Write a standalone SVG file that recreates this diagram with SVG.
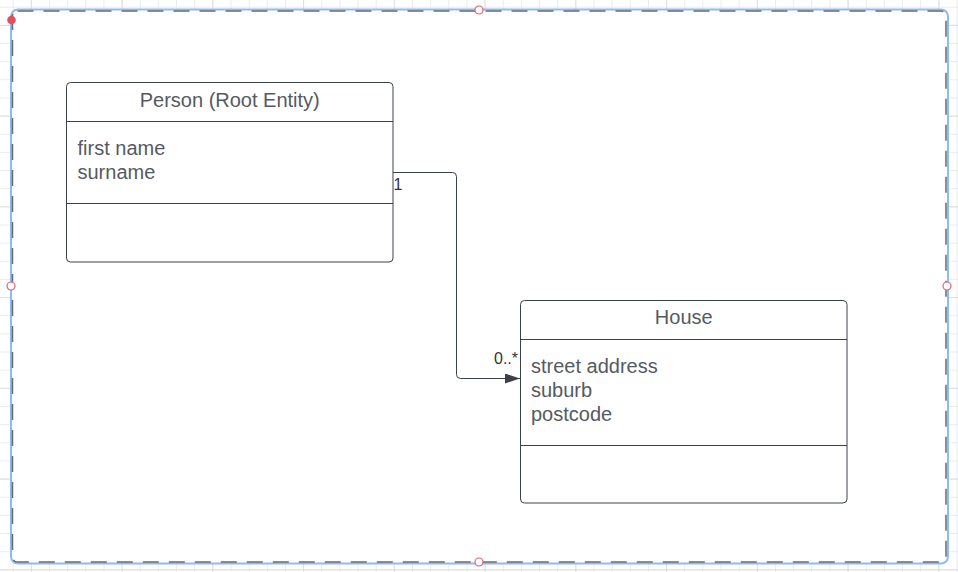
<svg xmlns="http://www.w3.org/2000/svg" width="958" height="572" viewBox="0 0 958 572">
  <defs>
    <pattern id="minor" patternUnits="userSpaceOnUse" x="12.7" y="6.7" width="18.15" height="18.15">
      <path d="M0.5 0V18.15M0 0.5H18.15" stroke="#ebebeb" stroke-width="1" fill="none"/>
    </pattern>
    <pattern id="major" patternUnits="userSpaceOnUse" x="30.85" y="24.85" width="90.75" height="90.75">
      <path d="M0.5 0V90.75M0 0.5H90.75" stroke="#dedede" stroke-width="1" fill="none"/>
    </pattern>
    <marker id="arrow" markerUnits="userSpaceOnUse" markerWidth="16" markerHeight="12" refX="15" refY="5" orient="auto">
      <path d="M0 0L15 5L0 10Z" fill="#3a414a"/>
    </marker>
    <style>
      .box { fill: #ffffff; stroke: #3a414a; stroke-width: 1; }
      .div { stroke: #3a414a; stroke-width: 1; }
      .title { font-family: "Liberation Sans", Arial, sans-serif; font-size: 20px; fill: #555a62; text-anchor: middle; }
      .attr { font-family: "Liberation Sans", Arial, sans-serif; font-size: 20px; fill: #555a62; }
      .mult { font-family: "Liberation Sans", Arial, sans-serif; font-size: 16px; fill: #333333; }
      .conn { fill: none; stroke: #3a414a; stroke-width: 1; }
      .handle { fill: #ffffff; stroke: #e2606e; stroke-width: 1.2; }
    </style>
  </defs>

  <rect x="0" y="0" width="958" height="572" fill="#ffffff"/>
  <rect x="0" y="0" width="958" height="572" fill="url(#minor)"/>
  <rect x="0" y="0" width="958" height="572" fill="url(#major)"/>

  <g id="frame">
    <rect x="11" y="9.5" width="937" height="554" rx="7" fill="#ffffff" stroke="#8bbcf6" stroke-width="2"/>
    <rect x="12.5" y="11" width="933.5" height="551" rx="5" fill="none" stroke="#666b72" stroke-width="1.5" stroke-dasharray="16 10"/>
    <circle class="handle" cx="479" cy="10" r="4"/>
    <circle class="handle" cx="11" cy="286" r="4"/>
    <circle class="handle" cx="947" cy="286" r="4"/>
    <circle class="handle" cx="479" cy="562" r="4"/>
    <circle cx="11.5" cy="20" r="4.3" fill="#e2505f"/>
  </g>

  <g id="person">
    <rect class="box" x="66.5" y="82.5" width="326.5" height="179.5" rx="4"/>
    <line class="div" x1="66.5" y1="121.5" x2="393" y2="121.5"/>
    <line class="div" x1="66.5" y1="203.5" x2="393" y2="203.5"/>
    <text class="title" x="229.75" y="106.5">Person (Root Entity)</text>
    <text class="attr" x="77.5" y="154.5">first name</text>
    <text class="attr" x="77.5" y="178.5">surname</text>
  </g>

  <g id="house">
    <rect class="box" x="520.5" y="300.5" width="326.5" height="202.5" rx="4"/>
    <line class="div" x1="520.5" y1="339.5" x2="847" y2="339.5"/>
    <line class="div" x1="520.5" y1="445.5" x2="847" y2="445.5"/>
    <text class="title" x="683.75" y="323.5">House</text>
    <text class="attr" x="531" y="373">street address</text>
    <text class="attr" x="531" y="397">suburb</text>
    <text class="attr" x="531" y="421">postcode</text>
  </g>

  <g id="connectors">
    <path class="conn" d="M393 172.5H452.5Q456.5 172.5 456.5 176.5V374.5Q456.5 378.5 460.5 378.5H520" marker-end="url(#arrow)"/>
    <text class="mult" x="393.5" y="190">1</text>
    <text class="mult" x="494" y="364">0..*</text>
  </g>
</svg>
